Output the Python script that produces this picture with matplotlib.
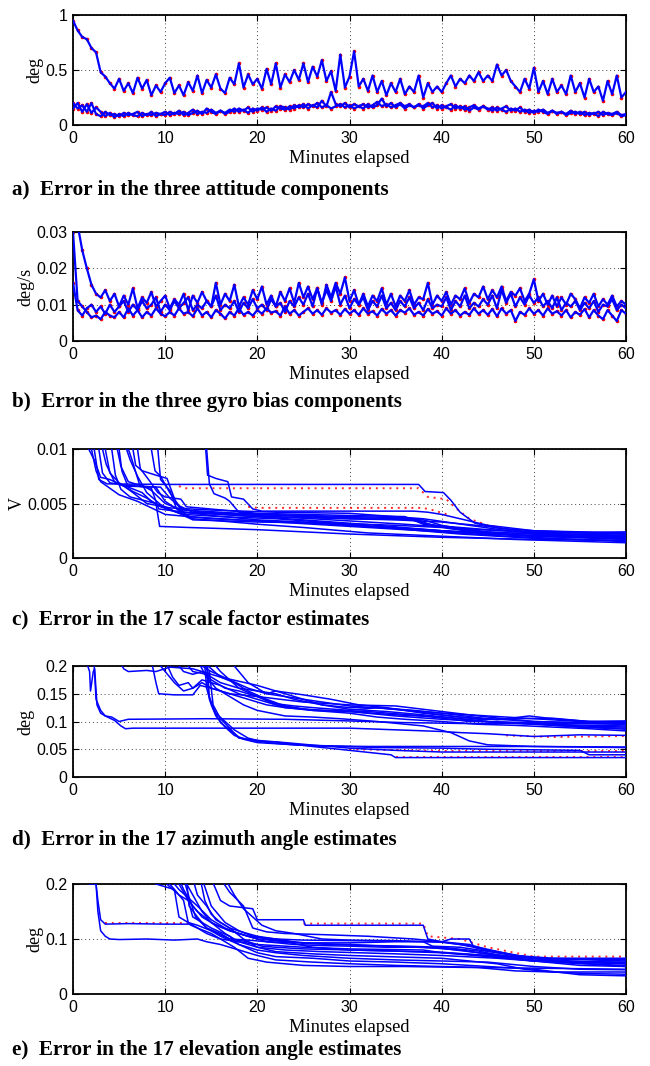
import numpy as np
import matplotlib
matplotlib.use("Agg")
import matplotlib.pyplot as plt

plt.rcParams['font.family'] = ['Liberation Sans', 'DejaVu Sans']

# ---------------- Panel a: attitude errors (deg), sampled every 0.5 min ----------------
ATT_1 = [0.95, 0.86, 0.80, 0.78, 0.70, 0.66, 0.48, 0.44, 0.38, 0.33,
         0.42, 0.31, 0.38, 0.29, 0.43, 0.33, 0.41, 0.27, 0.36, 0.30,
         0.38, 0.43, 0.29, 0.36, 0.27, 0.39, 0.31, 0.45, 0.29, 0.41,
         0.34, 0.46, 0.33, 0.29, 0.43, 0.37, 0.56, 0.34, 0.46, 0.37,
         0.42, 0.33, 0.51, 0.37, 0.56, 0.34, 0.46, 0.39, 0.50, 0.41,
         0.56, 0.39, 0.53, 0.44, 0.59, 0.40, 0.49, 0.31, 0.64, 0.34,
         0.44, 0.67, 0.35, 0.42, 0.31, 0.45, 0.30, 0.40, 0.27, 0.38,
         0.30, 0.42, 0.28, 0.35, 0.30, 0.45, 0.25, 0.38, 0.30, 0.35,
         0.30, 0.38, 0.45, 0.35, 0.42, 0.38, 0.45, 0.40, 0.48, 0.40,
         0.45, 0.40, 0.55, 0.45, 0.50, 0.40, 0.35, 0.30, 0.42, 0.33,
         0.52, 0.30, 0.40, 0.28, 0.42, 0.30, 0.36, 0.28, 0.45, 0.30,
         0.38, 0.25, 0.42, 0.30, 0.35, 0.22, 0.40, 0.28, 0.45, 0.25, 0.30]
ATT_2 = [0.20, 0.15, 0.18, 0.12, 0.20, 0.10, 0.08, 0.12, 0.09, 0.10,
         0.08, 0.11, 0.09, 0.10, 0.12, 0.08, 0.10, 0.09, 0.11, 0.10,
         0.12, 0.09, 0.11, 0.10, 0.12, 0.09, 0.11, 0.13, 0.10, 0.15,
         0.12, 0.10, 0.13, 0.11, 0.14, 0.12, 0.15, 0.13, 0.16, 0.12,
         0.15, 0.14, 0.16, 0.13, 0.17, 0.15, 0.14, 0.17, 0.15, 0.18,
         0.16, 0.19, 0.17, 0.20, 0.16, 0.18, 0.15, 0.17, 0.19, 0.16,
         0.18, 0.15, 0.17, 0.19, 0.16, 0.18, 0.21, 0.17, 0.19, 0.16,
         0.18, 0.20, 0.17, 0.19, 0.16, 0.18, 0.17, 0.20, 0.16, 0.18,
         0.15, 0.17, 0.19, 0.15, 0.17, 0.14, 0.16, 0.18, 0.15, 0.17,
         0.14, 0.16, 0.13, 0.15, 0.17, 0.13, 0.15, 0.12, 0.14, 0.11,
         0.13, 0.12, 0.14, 0.11, 0.13, 0.10, 0.12, 0.10, 0.13, 0.10,
         0.12, 0.09, 0.11, 0.10, 0.12, 0.09, 0.11, 0.10, 0.12, 0.09, 0.10]
ATT_3 = [0.15, 0.20, 0.12, 0.19, 0.11, 0.16, 0.12, 0.08, 0.11, 0.07,
         0.10, 0.08, 0.11, 0.09, 0.08, 0.11, 0.09, 0.12, 0.08, 0.10,
         0.09, 0.12, 0.10, 0.13, 0.09, 0.11, 0.14, 0.10, 0.12, 0.11,
         0.14, 0.11, 0.13, 0.10, 0.12, 0.15, 0.12, 0.14, 0.11, 0.15,
         0.13, 0.16, 0.12, 0.15, 0.13, 0.17, 0.16, 0.14, 0.18, 0.16,
         0.19, 0.15, 0.18, 0.16, 0.22, 0.17, 0.30, 0.19, 0.17, 0.20,
         0.16, 0.19, 0.17, 0.15, 0.19, 0.16, 0.18, 0.24, 0.17, 0.20,
         0.16, 0.19, 0.15, 0.18, 0.16, 0.19, 0.15, 0.18, 0.20, 0.15,
         0.18, 0.16, 0.14, 0.18, 0.15, 0.17, 0.13, 0.16, 0.14, 0.17,
         0.15, 0.13, 0.16, 0.14, 0.12, 0.15, 0.13, 0.16, 0.12, 0.14,
         0.11, 0.14, 0.12, 0.10, 0.13, 0.11, 0.12, 0.09, 0.11, 0.12,
         0.10, 0.12, 0.09, 0.11, 0.08, 0.12, 0.10, 0.09, 0.11, 0.08, 0.09]

# ---------------- Panel b: gyro bias errors (1e-3 deg/s), every 0.5 min ----------------
GYRO_SCALE = 1e-3
GB_1 = [30, 11, 9.5, 8, 6.5, 7, 6, 8, 7, 6.5,
        8, 6.5, 9, 7, 8.5, 6.5, 8, 7, 9, 7.5,
        6.8, 8, 7, 9, 7.5, 8, 6.8, 9, 7, 8,
        6.5, 8.5, 7.5, 6.2, 8, 7, 9, 7.2, 8, 7,
        8.5, 7.5, 9, 7.8, 8.2, 7, 9.5, 7.5, 8.5, 7,
        8, 9, 7.5, 8.5, 7.2, 9, 7.8, 8.5, 7.2, 8.8,
        7.5, 8.5, 7.2, 9, 7.5, 8.2, 7, 8.8, 7.5, 8.5,
        7, 8.5, 7.8, 9, 7.2, 8, 7, 8.8, 7.5, 8.2,
        7, 9, 7.5, 8.5, 7, 8, 7.2, 9, 7.5, 8.5,
        7.2, 8.8, 6.8, 9, 7.5, 8.5, 5.5, 8, 7.2, 9,
        7.5, 8.5, 7, 9, 7.5, 8.2, 7, 8.5, 6.5, 8,
        7.2, 8.8, 6.5, 8.5, 7, 6, 8.5, 7, 5.5, 8.5, 7.5]
GB_2 = [35, 32, 25, 20, 15.5, 13, 12, 14, 11, 13,
        9.5, 12.5, 10, 14.5, 9, 12, 10.5, 13.5, 9.5, 11,
        12.5, 9, 11.5, 10, 13, 8.5, 12.5, 10.5, 13.5, 11,
        9.5, 16, 10, 13, 11, 15.5, 9.5, 12, 10, 14,
        11.5, 15, 10, 12.5, 9.5, 13.5, 11, 14.5, 10.5, 16,
        12, 15, 11.5, 14.5, 10, 15.5, 12, 16, 13, 17.5,
        11, 14, 10, 13, 9.5, 12.5, 11, 14.5, 10, 13,
        9.5, 12.5, 11, 14, 10, 12, 11.5, 16, 10, 12.5,
        11, 13.5, 10, 12.5, 11.5, 14.5, 10.5, 13, 12, 15,
        11.5, 14, 12, 15, 11, 13.5, 12.5, 14.5, 11, 13,
        17, 11, 13, 10, 12.5, 9.5, 12, 10, 13, 11.5,
        9, 12, 10.5, 13, 9.5, 11.5, 10, 12.5, 9.5, 11, 10]
GB_3 = [16, 8.5, 7, 9, 10, 8, 9.5, 7.5, 10, 8,
        9.5, 11, 8, 10, 8.5, 11, 9, 10, 12, 8,
        10, 8.5, 11, 9, 10.5, 12, 8.5, 10, 9, 11,
        9.5, 12.5, 8.5, 10, 9, 11, 8, 10.5, 9, 11.5,
        9, 10, 8.5, 11.5, 9.5, 10.5, 8, 11, 9.5, 12,
        10, 13, 9.5, 14.5, 10.5, 14, 11, 15, 10, 12.5,
        9, 11.5, 10, 12, 8.5, 11, 9.5, 12.5, 9, 10.5,
        8.5, 11, 9.5, 12, 9, 10.5, 8.5, 11.5, 9, 10,
        9.5, 12, 8.5, 11, 9.5, 12.5, 9, 10.5, 9.5, 11.5,
        10, 12.5, 9, 14, 10.5, 13, 9.5, 12, 10, 12.5,
        10.5, 12, 9.5, 11, 9, 12, 8.5, 10.5, 9.5, 11,
        8.5, 10.5, 9, 11, 8, 10, 9.5, 11.5, 8.5, 10, 9]

# ---------------- Panel c: 17 scale-factor errors (1e-3 V), breakpoints ----------------
SF_SCALE = 1e-3
SF01_T = [2.3, 2.8, 3.7, 10, 37.5, 38.2, 40.2, 41, 42, 43.6, 46.4, 50, 60]
SF01_V = [10, 7.2, 6.8, 6.75, 6.75, 6.1, 6.0, 5.3, 4.2, 3.2, 2.7, 2.5, 2.3]
SF02_T = [14.4, 14.6, 15.5, 16.8, 17.2, 18.5, 19.5, 20.5, 37, 38.5, 40, 42, 45, 50, 60]
SF02_V = [10, 7.6, 7.3, 7.0, 5.6, 5.4, 4.5, 4.3, 4.3, 4.2, 4.0, 3.6, 3.0, 2.5, 2.2]
SF03_T = [14.5, 14.8, 15.3, 16.5, 17, 18, 20, 25, 30, 35, 40, 45, 50, 60]
SF03_V = [10, 6.8, 5.9, 5.5, 5.2, 4.2, 4.0, 3.8, 3.6, 3.5, 3.3, 2.9, 2.3, 2.0]
SF04_T = [3.2, 3.6, 4.5, 5.5, 9.5, 10.5, 12, 20, 30, 36, 38, 42, 48, 60]
SF04_V = [10, 8.6, 7.0, 6.6, 6.5, 5.5, 4.4, 4.0, 3.8, 3.7, 3.2, 2.6, 2.1, 1.9]
SF05_T = [4.2, 4.6, 5.2, 6.2, 9.0, 9.4, 12.5, 20, 30, 40, 45, 50, 60]
SF05_V = [10, 7.6, 6.3, 5.6, 5.0, 2.9, 2.8, 2.6, 2.2, 1.9, 1.8, 1.7, 1.6]
SF06_T = [5.0, 5.3, 6.0, 7.5, 8.5, 10, 11.5, 13, 20, 28, 35, 40, 45, 60]
SF06_V = [10, 8.0, 6.5, 6.0, 5.2, 4.6, 4.1, 3.5, 3.3, 3.2, 3.0, 2.8, 2.2, 1.8]
SF07_T = [5.8, 6.2, 7.0, 8.0, 9.5, 11, 15, 20, 25, 30, 35, 40, 50, 60]
SF07_V = [10, 9.0, 7.5, 6.0, 4.9, 4.3, 3.9, 3.5, 3.3, 3.0, 2.8, 2.5, 2.0, 1.7]
SF08_T = [6.5, 6.8, 7.5, 9.0, 10.2, 11.2, 12, 20, 30, 38, 40, 44, 50, 60]
SF08_V = [10, 8.5, 8.0, 7.6, 7.3, 5.0, 4.2, 3.8, 3.6, 3.5, 3.0, 2.4, 2.2, 2.0]
SF09_T = [7.0, 7.3, 8.2, 9.2, 10, 11.7, 12.3, 20, 30, 36, 38, 45, 55, 60]
SF09_V = [10, 8.2, 7.2, 6.0, 5.6, 5.4, 4.7, 4.1, 3.9, 3.8, 3.1, 2.4, 2.0, 1.9]
SF10_T = [2.0, 2.5, 3.0, 4.0, 5.0, 7.0, 10, 15, 20, 30, 40, 47, 60]
SF10_V = [10, 8.0, 7.0, 6.4, 5.8, 5.2, 4.0, 3.6, 3.4, 2.9, 2.4, 2.0, 1.5]
SF11_T = [3.5, 4.0, 5.0, 6.5, 8.0, 9.5, 12, 16, 22, 30, 35, 42, 50, 60]
SF11_V = [10, 7.8, 6.9, 6.1, 5.5, 4.7, 4.0, 3.8, 3.6, 3.1, 2.7, 2.2, 1.8, 1.6]
SF12_T = [8.5, 8.9, 9.5, 10.5, 11.5, 13, 20, 30, 37, 39, 45, 52, 60]
SF12_V = [10, 8.0, 7.5, 6.0, 4.8, 4.2, 4.0, 3.7, 3.6, 3.0, 2.6, 2.2, 2.1]
SF13_T = [9.2, 9.5, 10.5, 11.2, 13, 16, 20, 25, 32, 40, 48, 60]
SF13_V = [10, 7.2, 6.2, 4.6, 3.6, 3.4, 3.1, 2.8, 2.3, 2.0, 1.7, 1.4]
SF14_T = [4.8, 5.2, 6.0, 7.5, 9.0, 10.0, 12.5, 18, 26, 34, 42, 50, 60]
SF14_V = [10, 8.4, 7.0, 6.6, 6.5, 5.2, 3.8, 3.5, 3.2, 2.8, 2.4, 2.0, 1.8]
SF15_T = [2.8, 3.2, 4.0, 5.5, 7.0, 8.5, 9.3, 12, 18, 25, 33, 40, 50, 60]
SF15_V = [10, 7.8, 6.9, 6.7, 6.6, 6.4, 4.5, 4.2, 3.9, 3.5, 3.0, 2.5, 2.0, 1.9]
SF16_T = [6.0, 6.4, 7.2, 8.5, 10.0, 11.5, 14, 20, 28, 36, 44, 52, 60]
SF16_V = [10, 9.0, 6.8, 6.2, 5.0, 4.5, 4.2, 3.9, 3.5, 3.1, 2.6, 2.3, 2.4]
SF17_T = [1.7, 2.3, 3.0, 4.0, 5.5, 6.5, 8.0, 10.5, 15, 22, 30, 38, 48, 60]
SF17_V = [10, 9.0, 7.4, 7.2, 6.6, 6.0, 5.0, 4.6, 4.4, 4.2, 4.1, 3.6, 2.4, 2.2]
SF_RED1_T = [11.5, 12, 37.5, 38.5, 40.5, 41.5, 43, 45, 50, 60]
SF_RED1_V = [6.6, 6.4, 6.4, 5.6, 5.4, 4.6, 3.6, 3.0, 2.4, 2.2]
SF_RED2_T = [19, 20, 38, 39, 41]
SF_RED2_V = [4.7, 4.6, 4.6, 4.4, 3.9]

# ---------------- Panel d: 17 azimuth errors (deg), breakpoints ----------------
AZ01_T = [1.6, 1.8, 1.9, 2.2, 2.35, 2.6, 3.0, 3.5, 4.2, 5.0, 6.0, 14.5, 23, 30, 36, 40, 44, 50, 56, 60]
AZ01_V = [0.2, 0.19, 0.155, 0.19, 0.195, 0.13, 0.115, 0.11, 0.108, 0.1, 0.104, 0.105, 0.104, 0.101, 0.098, 0.097, 0.096, 0.097, 0.096, 0.095]
AZ02_T = [2.3, 2.5, 3.0, 3.5, 4.5, 5.2, 5.7, 6.5, 20, 30, 35, 40, 42, 45, 50, 55, 60]
AZ02_V = [0.2, 0.14, 0.12, 0.11, 0.102, 0.092, 0.087, 0.088, 0.088, 0.088, 0.085, 0.082, 0.08, 0.078, 0.073, 0.076, 0.075]
AZ03_T = [14.3, 14.5, 15.0, 15.5, 16.5, 17.5, 18.5, 20, 22, 25, 28, 30, 35, 40, 60]
AZ03_V = [0.2, 0.16, 0.13, 0.11, 0.09, 0.075, 0.068, 0.062, 0.06, 0.057, 0.055, 0.052, 0.048, 0.045, 0.045]
AZ04_T = [14.5, 14.7, 15.3, 16.0, 17.0, 18.0, 19.5, 22, 26, 30, 34.5, 35, 60]
AZ04_V = [0.2, 0.15, 0.12, 0.098, 0.085, 0.072, 0.065, 0.063, 0.055, 0.048, 0.04, 0.035, 0.035]
AZ05_T = [14.6, 14.8, 15.5, 16.5, 17.5, 19, 21, 24, 28, 33, 40, 45, 55, 56, 60]
AZ05_V = [0.2, 0.14, 0.115, 0.1, 0.085, 0.07, 0.062, 0.058, 0.056, 0.053, 0.052, 0.05, 0.048, 0.04, 0.04]
AZ06_T = [14.8, 15.2, 16.0, 17.0, 18.0, 20, 23, 27, 32, 38, 44, 50, 60]
AZ06_V = [0.19, 0.13, 0.105, 0.088, 0.07, 0.066, 0.062, 0.056, 0.055, 0.055, 0.055, 0.055, 0.053]
AZ07_T = [5.0, 5.5, 6.0, 8.0, 9.0, 10.5, 13, 16, 20, 25, 30, 35, 40, 45, 50, 55, 60]
AZ07_V = [0.21, 0.195, 0.19, 0.192, 0.19, 0.198, 0.195, 0.18, 0.165, 0.14, 0.128, 0.122, 0.115, 0.11, 0.105, 0.1, 0.1]
AZ08_T = [8.5, 9.0, 9.3, 11, 13, 13.8, 15, 17, 20, 25, 30, 35, 40, 45, 50, 60]
AZ08_V = [0.21, 0.17, 0.15, 0.148, 0.148, 0.165, 0.16, 0.15, 0.145, 0.135, 0.13, 0.128, 0.118, 0.108, 0.1, 0.095]
AZ09_T = [10, 10.8, 11.5, 12.5, 13, 14, 16, 18, 20, 23, 27, 32, 38, 43, 50, 55, 60]
AZ09_V = [0.21, 0.18, 0.165, 0.17, 0.16, 0.175, 0.165, 0.15, 0.14, 0.125, 0.12, 0.118, 0.11, 0.1, 0.098, 0.092, 0.09]
AZ10_T = [11, 12, 13, 14, 15, 16.5, 18, 20, 22, 25, 30, 35, 40, 45, 50, 55, 60]
AZ10_V = [0.21, 0.19, 0.185, 0.19, 0.175, 0.16, 0.155, 0.145, 0.13, 0.122, 0.118, 0.11, 0.104, 0.1, 0.096, 0.09, 0.086]
AZ11_T = [12, 13, 14.5, 16, 18, 20, 22, 24, 27, 30, 33, 37, 40, 45, 50, 55, 60]
AZ11_V = [0.21, 0.19, 0.185, 0.17, 0.16, 0.155, 0.15, 0.14, 0.13, 0.125, 0.125, 0.12, 0.115, 0.105, 0.1, 0.098, 0.097]
AZ12_T = [13, 14, 15, 17, 19, 21, 23, 25, 27, 30, 34, 38, 42, 46, 50, 55, 60]
AZ12_V = [0.21, 0.2, 0.19, 0.175, 0.16, 0.15, 0.145, 0.14, 0.13, 0.122, 0.118, 0.112, 0.105, 0.098, 0.095, 0.09, 0.088]
AZ13_T = [14, 15, 16, 17.5, 19, 21, 23, 26, 30, 33, 36, 40, 44, 48, 52, 56, 60]
AZ13_V = [0.21, 0.195, 0.18, 0.17, 0.155, 0.14, 0.128, 0.12, 0.115, 0.108, 0.104, 0.1, 0.095, 0.093, 0.09, 0.087, 0.083]
AZ14_T = [9, 10, 11, 12, 13, 14, 15, 17, 19, 21, 23, 26, 30, 35, 40, 45, 50, 60]
AZ14_V = [0.21, 0.19, 0.17, 0.155, 0.16, 0.17, 0.16, 0.15, 0.14, 0.13, 0.125, 0.12, 0.118, 0.112, 0.108, 0.1, 0.095, 0.092]
AZ15_T = [15, 16, 17, 18, 20, 22, 24, 26, 30, 33, 36, 40, 44, 48, 52, 56, 60]
AZ15_V = [0.21, 0.19, 0.175, 0.16, 0.145, 0.132, 0.128, 0.125, 0.12, 0.125, 0.12, 0.112, 0.104, 0.105, 0.106, 0.1, 0.101]
AZ16_T = [17, 18, 19, 21, 22, 25, 28, 31, 34, 38, 42, 46, 49.5, 52, 56, 60]
AZ16_V = [0.21, 0.19, 0.17, 0.15, 0.155, 0.148, 0.14, 0.13, 0.125, 0.115, 0.108, 0.103, 0.11, 0.105, 0.1, 0.098]
AZ17_T = [13.5, 14.5, 15.5, 17, 18.5, 20, 23, 26, 29, 33, 38, 41, 43, 45, 50, 60]
AZ17_V = [0.21, 0.18, 0.16, 0.145, 0.13, 0.12, 0.11, 0.108, 0.105, 0.1, 0.092, 0.08, 0.065, 0.058, 0.055, 0.054]
AZ_RED1_T = [35, 60]
AZ_RED1_V = [0.036, 0.036]
AZ_RED2_T = [30, 40, 60]
AZ_RED2_V = [0.05, 0.047, 0.047]
AZ_RED3_T = [47, 52, 60]
AZ_RED3_V = [0.075, 0.072, 0.074]

# ---------------- Panel e: 17 elevation errors (deg), breakpoints ----------------
EL01_T = [1.8, 2.5, 2.7, 3.0, 3.5, 6, 10, 12.6, 12.8, 13.5, 14.5, 16, 18, 20, 25, 30, 38, 40, 45, 50, 60]
EL01_V = [0.2, 0.2, 0.17, 0.135, 0.127, 0.128, 0.127, 0.127, 0.125, 0.12, 0.11, 0.1, 0.095, 0.09, 0.085, 0.082, 0.08, 0.075, 0.07, 0.06, 0.055]
EL02_T = [2.5, 2.7, 3.0, 3.5, 4.0, 5.0, 8, 11, 13.5, 14.5, 16, 18, 20, 22, 26, 30, 35, 40, 45, 50, 55, 60]
EL02_V = [0.2, 0.15, 0.115, 0.105, 0.1, 0.099, 0.1, 0.098, 0.1, 0.095, 0.09, 0.08, 0.07, 0.062, 0.058, 0.055, 0.052, 0.05, 0.048, 0.047, 0.046, 0.045]
EL03_T = [15, 16, 17, 19.5, 20, 25, 25.2, 38, 38.5, 40, 43, 45, 50, 60]
EL03_V = [0.21, 0.17, 0.16, 0.155, 0.135, 0.135, 0.125, 0.125, 0.1, 0.095, 0.09, 0.08, 0.065, 0.06]
EL04_T = [12, 13, 14, 15, 17, 19, 22, 25, 30, 35, 40, 41, 43, 43.5, 45, 48, 52, 60]
EL04_V = [0.21, 0.18, 0.15, 0.13, 0.115, 0.105, 0.1, 0.098, 0.097, 0.096, 0.095, 0.1, 0.1, 0.085, 0.078, 0.07, 0.06, 0.058]
EL05_T = [9.5, 10.5, 11.5, 12.5, 13, 14, 15, 17, 18, 20, 22, 26, 30, 35, 40, 45, 50, 55, 60]
EL05_V = [0.21, 0.195, 0.18, 0.17, 0.14, 0.13, 0.12, 0.105, 0.09, 0.075, 0.068, 0.065, 0.06, 0.058, 0.055, 0.05, 0.045, 0.035, 0.033]
EL06_T = [10, 11, 12, 12.5, 13.5, 15, 16, 17.5, 19, 21, 25, 30, 36, 40, 44, 48, 52, 60]
EL06_V = [0.21, 0.19, 0.17, 0.13, 0.12, 0.11, 0.1, 0.085, 0.065, 0.058, 0.052, 0.05, 0.05, 0.049, 0.048, 0.042, 0.04, 0.04]
EL07_T = [11, 11.5, 12.5, 13.5, 15, 16.5, 18, 20, 23, 27, 31, 35, 40, 46, 50, 55, 60]
EL07_V = [0.21, 0.2, 0.17, 0.15, 0.13, 0.11, 0.095, 0.085, 0.08, 0.077, 0.075, 0.073, 0.07, 0.065, 0.06, 0.055, 0.052]
EL08_T = [11.5, 12, 13, 14, 15.5, 17, 19, 21, 24, 27, 30, 34, 38, 42, 46, 50, 54, 60]
EL08_V = [0.21, 0.19, 0.16, 0.14, 0.125, 0.115, 0.105, 0.095, 0.09, 0.088, 0.087, 0.085, 0.085, 0.08, 0.07, 0.06, 0.058, 0.057]
EL09_T = [12, 12.7, 13.3, 14.5, 16, 17, 19, 21, 23, 25, 30, 35, 38, 39, 42, 46, 50, 60]
EL09_V = [0.21, 0.17, 0.14, 0.12, 0.11, 0.1, 0.098, 0.095, 0.094, 0.093, 0.093, 0.095, 0.095, 0.087, 0.085, 0.075, 0.065, 0.063]
EL10_T = [13, 13.5, 14.5, 15.5, 17, 18.5, 20, 22, 25, 28, 32, 36, 40, 44, 48, 52, 56, 60]
EL10_V = [0.21, 0.18, 0.16, 0.135, 0.12, 0.112, 0.105, 0.1, 0.092, 0.09, 0.088, 0.086, 0.083, 0.075, 0.068, 0.062, 0.058, 0.056]
EL11_T = [8, 9, 10, 11, 11.5, 12.5, 13.5, 15, 17, 19, 20.5, 22, 25, 30, 35, 40, 45, 50, 55, 60]
EL11_V = [0.21, 0.2, 0.195, 0.19, 0.14, 0.13, 0.125, 0.115, 0.1, 0.095, 0.087, 0.085, 0.082, 0.08, 0.078, 0.075, 0.068, 0.06, 0.052, 0.05]
EL12_T = [16.5, 17.5, 18.5, 19.5, 20.5, 22, 24, 27, 30, 35, 40, 42, 45, 48, 52, 60]
EL12_V = [0.21, 0.18, 0.155, 0.14, 0.125, 0.115, 0.11, 0.1, 0.098, 0.097, 0.094, 0.09, 0.08, 0.07, 0.065, 0.065]
EL13_T = [13.8, 14.3, 15, 16, 17, 18.5, 20, 22, 26, 30, 34, 40, 46, 49, 52, 56, 60]
EL13_V = [0.21, 0.17, 0.145, 0.13, 0.12, 0.1, 0.085, 0.077, 0.073, 0.07, 0.068, 0.065, 0.055, 0.045, 0.04, 0.037, 0.036]
EL14_T = [14, 15, 16.5, 18, 19.5, 21, 23, 26, 30, 33, 36, 40, 44, 47, 50, 55, 60]
EL14_V = [0.21, 0.16, 0.13, 0.115, 0.105, 0.1, 0.096, 0.092, 0.09, 0.088, 0.087, 0.085, 0.078, 0.068, 0.062, 0.058, 0.055]
EL15_T = [12.3, 12.6, 13.5, 14.5, 16, 18, 20, 22, 25, 30, 35, 40, 45, 50, 55, 60]
EL15_V = [0.21, 0.16, 0.14, 0.12, 0.105, 0.09, 0.08, 0.075, 0.07, 0.065, 0.062, 0.06, 0.058, 0.05, 0.045, 0.044]
EL16_T = [10.5, 11.5, 12.5, 13.5, 15, 16.5, 18, 20, 23, 26, 30, 35, 40, 45, 50, 60]
EL16_V = [0.21, 0.19, 0.175, 0.16, 0.135, 0.12, 0.11, 0.1, 0.095, 0.085, 0.08, 0.078, 0.076, 0.07, 0.065, 0.062]
EL17_T = [16, 17, 18.5, 19.5, 21, 23, 27, 32, 37, 40, 44, 48, 52, 56, 60]
EL17_V = [0.21, 0.185, 0.16, 0.12, 0.113, 0.11, 0.108, 0.105, 0.1, 0.095, 0.085, 0.07, 0.06, 0.055, 0.05]
EL_RED1_T = [25, 38, 38.5, 42, 45, 50, 60]
EL_RED1_V = [0.128, 0.128, 0.105, 0.1, 0.085, 0.068, 0.068]
EL_RED2_T = [3.5, 12.5]
EL_RED2_V = [0.13, 0.13]

# ---------------- Axis settings / text ----------------
XTICKS = [0, 10, 20, 30, 40, 50, 60]
YLIMS = [(0, 1), (0, 0.03), (0, 0.01), (0, 0.2), (0, 0.2)]
YTICKS = [[0, 0.5, 1], [0, 0.01, 0.02, 0.03], [0, 0.005, 0.01],
          [0, 0.05, 0.1, 0.15, 0.2], [0, 0.1, 0.2]]
YTICKLABELS = [['0', '0.5', '1'], ['0', '0.01', '0.02', '0.03'], ['0', '0.005', '0.01'],
               ['0', '0.05', '0.1', '0.15', '0.2'], ['0', '0.1', '0.2']]
YLABELS = ['deg', 'deg/s', 'V', 'deg', 'deg']
XLABEL = 'Minutes elapsed'
CAPTIONS = ['a)  Error in the three attitude components',
            'b)  Error in the three gyro bias components',
            'c)  Error in the 17 scale factor estimates',
            'd)  Error in the 17 azimuth angle estimates',
            'e)  Error in the 17 elevation angle estimates']

# ---------------- Layout ----------------
W, H = 650, 1066
fig = plt.figure(figsize=(W / 100, H / 100), dpi=100)
AX_LEFT, AX_RIGHT = 73, 626
AX_TOPS = [15, 232, 449, 666, 884]
AX_BOTTOMS = [125, 341, 558, 777, 994]
CAP_Y = [190, 402, 619, 840, 1050]

BLUE = '#0000ff'
RED = '#ff0000'
SERIF = ['Liberation Serif', 'DejaVu Serif']

axes = []
for i in range(5):
    ax = fig.add_axes([AX_LEFT / W, 1 - AX_BOTTOMS[i] / H, (AX_RIGHT - AX_LEFT) / W,
                       (AX_BOTTOMS[i] - AX_TOPS[i]) / H])
    axes.append(ax)


def noisy(ax, vals, scale=1.0):
    v = np.asarray(vals, dtype=float) * scale
    t = np.linspace(0, 60, len(v))
    ax.plot(t, v, ls='none', marker='.', ms=3.2, color=RED, zorder=2)
    ax.plot(t, v, color=BLUE, lw=1.6, zorder=3)


def curve(ax, ts, vs, scale=1.0):
    ax.plot(ts, np.asarray(vs, dtype=float) * scale, color=BLUE, lw=1.1, zorder=3)


def red(ax, ts, vs, scale=1.0):
    ax.plot(ts, np.asarray(vs, dtype=float) * scale, color=RED, lw=1.4,
            ls=(0, (1, 2.5)), zorder=2, alpha=0.85)


# panel a
for s in (ATT_2, ATT_3, ATT_1):
    noisy(axes[0], s)
# panel b
for s in (GB_1, GB_3, GB_2):
    noisy(axes[1], s, GYRO_SCALE)
# panel c
red(axes[2], SF_RED1_T, SF_RED1_V, SF_SCALE)
red(axes[2], SF_RED2_T, SF_RED2_V, SF_SCALE)
for ts, vs in [(SF01_T, SF01_V), (SF02_T, SF02_V), (SF03_T, SF03_V), (SF04_T, SF04_V),
               (SF05_T, SF05_V), (SF06_T, SF06_V), (SF07_T, SF07_V), (SF08_T, SF08_V),
               (SF09_T, SF09_V), (SF10_T, SF10_V), (SF11_T, SF11_V), (SF12_T, SF12_V),
               (SF13_T, SF13_V), (SF14_T, SF14_V), (SF15_T, SF15_V), (SF16_T, SF16_V),
               (SF17_T, SF17_V)]:
    curve(axes[2], ts, vs, SF_SCALE)
# panel d
for ts, vs in [(AZ_RED1_T, AZ_RED1_V), (AZ_RED2_T, AZ_RED2_V), (AZ_RED3_T, AZ_RED3_V)]:
    red(axes[3], ts, vs)
for ts, vs in [(AZ01_T, AZ01_V), (AZ02_T, AZ02_V), (AZ03_T, AZ03_V), (AZ04_T, AZ04_V),
               (AZ05_T, AZ05_V), (AZ06_T, AZ06_V), (AZ07_T, AZ07_V), (AZ08_T, AZ08_V),
               (AZ09_T, AZ09_V), (AZ10_T, AZ10_V), (AZ11_T, AZ11_V), (AZ12_T, AZ12_V),
               (AZ13_T, AZ13_V), (AZ14_T, AZ14_V), (AZ15_T, AZ15_V), (AZ16_T, AZ16_V),
               (AZ17_T, AZ17_V)]:
    curve(axes[3], ts, vs)
# panel e
for ts, vs in [(EL_RED1_T, EL_RED1_V), (EL_RED2_T, EL_RED2_V)]:
    red(axes[4], ts, vs)
for ts, vs in [(EL01_T, EL01_V), (EL02_T, EL02_V), (EL03_T, EL03_V), (EL04_T, EL04_V),
               (EL05_T, EL05_V), (EL06_T, EL06_V), (EL07_T, EL07_V), (EL08_T, EL08_V),
               (EL09_T, EL09_V), (EL10_T, EL10_V), (EL11_T, EL11_V), (EL12_T, EL12_V),
               (EL13_T, EL13_V), (EL14_T, EL14_V), (EL15_T, EL15_V), (EL16_T, EL16_V),
               (EL17_T, EL17_V)]:
    curve(axes[4], ts, vs)

for i, ax in enumerate(axes):
    ax.set_xlim(0, 60)
    ax.set_ylim(*YLIMS[i])
    ax.set_xticks(XTICKS)
    ax.set_xticklabels([str(x) for x in XTICKS])
    ax.set_yticks(YTICKS[i])
    ax.set_yticklabels(YTICKLABELS[i])
    ax.tick_params(direction='in', top=True, right=True, length=4, width=0.8,
                   labelsize=11.5, pad=4)
    for sp in ax.spines.values():
        sp.set_linewidth(1.3)
    ax.grid(True, color='#444444', ls=(0, (1, 3)), lw=0.7)
    ax.set_axisbelow(True)
    ax.set_xlabel(XLABEL, family=SERIF, fontsize=13.2, labelpad=3)
    ax.set_ylabel(YLABELS[i], family=SERIF, fontsize=13, labelpad=1.5)
    fig.text(12 / W, 1 - CAP_Y[i] / H, CAPTIONS[i], family=SERIF, weight='bold',
             fontsize=15.2, va='center', ha='left')

fig.savefig('out.png', dpi=100)
